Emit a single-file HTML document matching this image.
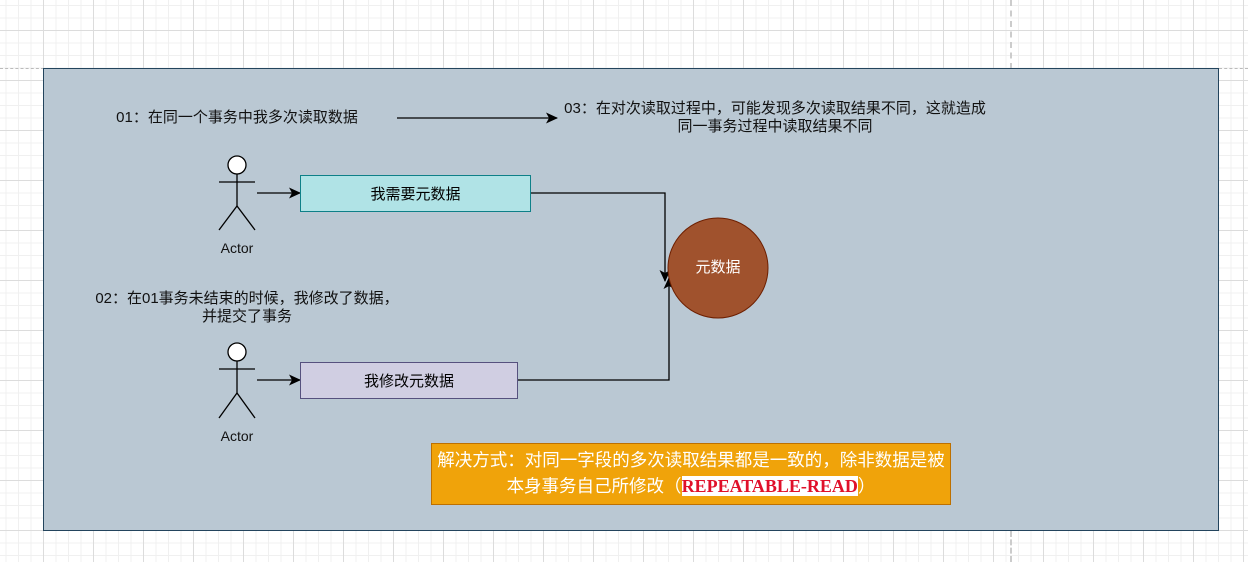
<!DOCTYPE html>
<html><head><meta charset="utf-8"><style>
html,body{margin:0;padding:0;}
body{width:1248px;height:562px;position:relative;overflow:hidden;background:#fff;
background-image:
linear-gradient(to right,#dcdcdc 1px,transparent 1px),
linear-gradient(to bottom,#dcdcdc 1px,transparent 1px),
linear-gradient(to right,#f0f0f0 1px,transparent 1px),
linear-gradient(to bottom,#f0f0f0 1px,transparent 1px);
background-size:50px 50px,50px 50px,12.5px 12.5px,12.5px 12.5px;
background-position:43px 30px,43px 30px,43px 30px,43px 30px;
font-family:"Liberation Sans","Noto Sans CJK SC",sans-serif;}
.t{position:absolute;font-size:15px;color:#111;text-align:center;white-space:nowrap;line-height:18px;}
</style></head><body>
<div style="position:absolute;left:1010px;top:0;height:69px;border-left:2px dashed #ccc"></div>
<div style="position:absolute;left:0;top:68px;width:44px;border-top:1px dashed #bbb"></div>
<div style="position:absolute;left:1219px;top:68px;width:29px;border-top:1px dashed #bbb"></div>
<div style="position:absolute;left:1010px;top:531px;height:31px;border-left:2px dashed #ccc"></div>
<div style="position:absolute;left:43px;top:68px;width:1174px;height:461px;background:#bac8d3;border:1px solid #23445d"></div>
<svg width="1248" height="562" style="position:absolute;left:0;top:0">
<defs><marker id="a" markerWidth="12" markerHeight="12" refX="11" refY="6" orient="auto" markerUnits="userSpaceOnUse"><path d="M0,0.5 L12,6 L0,11.5 L3,6z" fill="#000"/></marker></defs>
<g stroke="#000" stroke-width="1.3" fill="none">
<line x1="397" y1="118" x2="557" y2="118" marker-end="url(#a)"/>
<line x1="257" y1="193" x2="300" y2="193" marker-end="url(#a)"/>
<line x1="257" y1="380" x2="300" y2="380" marker-end="url(#a)"/>
<polyline points="531,193 665,193 665,281" marker-end="url(#a)"/>
<polyline points="518,380 669,380 669,278" marker-end="url(#a)"/>
<circle cx="237" cy="165" r="9" fill="#fff"/>
<line x1="237" y1="174" x2="237" y2="206"/><line x1="219" y1="182" x2="255" y2="182"/>
<polyline points="219,230 237,206 255,230"/>
<circle cx="237" cy="352" r="9" fill="#fff"/>
<line x1="237" y1="361" x2="237" y2="393"/><line x1="219" y1="369" x2="255" y2="369"/>
<polyline points="219,418 237,393 255,418"/>
</g>
<circle cx="718" cy="268" r="50" fill="#a0522d" stroke="#6d1f00"/>
</svg>
<div class="t" style="left:87px;top:109px;width:300px">01：在同一个事务中我多次读取数据</div>
<div class="t" style="left:540px;top:100px;width:470px">03：在对次读取过程中，可能发现多次读取结果不同，这就造成<br>同一事务过程中读取结果不同</div>
<div class="t" style="left:77px;top:290px;width:340px">02：在01事务未结束的时候，我修改了数据，<br>并提交了事务</div>
<div class="t" style="left:207px;top:239px;width:60px;font-size:14px">Actor</div>
<div class="t" style="left:207px;top:427px;width:60px;font-size:14px">Actor</div>
<div style="position:absolute;left:300px;top:175px;width:229px;height:35px;background:#b0e3e6;border:1px solid #0e8088;display:flex;align-items:center;justify-content:center;font-size:15px">我需要元数据</div>
<div style="position:absolute;left:300px;top:362px;width:216px;height:35px;background:#d0cee2;border:1px solid #56517e;display:flex;align-items:center;justify-content:center;font-size:15px">我修改元数据</div>
<div class="t" style="left:668px;top:259px;width:100px;color:#fff">元数据</div>
<div style="position:absolute;left:431px;top:443px;width:520px;height:62px;background:#f0a30a;border:1px solid #bd7000;color:#fff;font-size:17.5px;line-height:26px;text-align:center;padding-top:3px;box-sizing:border-box;white-space:nowrap">解决方式：对同一字段的多次读取结果都是一致的，除非数据是被<br>本身事务自己所修改（<span style="background:#fff;color:#e0102a;font-family:'Liberation Serif',serif;font-weight:bold;font-size:18px">REPEATABLE-READ</span>）</div>
</body></html>
